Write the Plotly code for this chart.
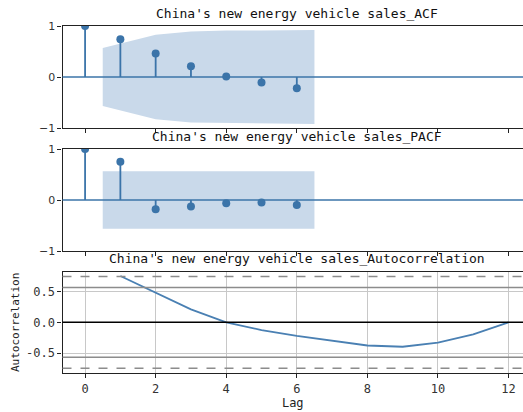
import plotly.graph_objects as go

# ---- data ----
lags = [0, 1, 2, 3, 4, 5, 6]
acf_vals = [1.0, 0.74, 0.46, 0.21, 0.01, -0.11, -0.22]
acf_conf = [0.57, 0.83, 0.89, 0.91, 0.91, 0.92]  # half-width of band for lags 1..6
pacf_vals = [1.0, 0.75, -0.18, -0.125, -0.065, -0.05, -0.10]
pacf_conf = [0.566, 0.566, 0.566, 0.566, 0.566, 0.566]
ac_lags = [1, 2, 3, 4, 5, 6, 7, 8, 9, 10, 11, 12]
ac_vals = [0.75, 0.48, 0.21, 0.0, -0.125, -0.22, -0.30, -0.375, -0.395, -0.33, -0.195, 0.0]
z95 = 0.566
z99 = 0.744
titles = ["China's new energy vehicle sales_ACF",
          "China's new energy vehicle sales_PACF",
          "China's new energy vehicle sales_Autocorrelation"]
xticks = [0, 2, 4, 6, 8, 10, 12]

W, H = 523, 412
C0 = "#3b74a9"
FILL = "#c9d9ea"
MONO = "DejaVu Sans Mono"

def ydom(top, bot):
    return [1 - bot / H, 1 - top / H]

XR = [-0.64, 12.41]
XD = [62.5 / W, 1.0]

fig = go.Figure()

def stem_panel(vals, conf, xa, ya):
    # confidence band
    bx = [l for l in lags[1:]]
    bx[0] -= 0.5
    bx[-1] += 0.5
    fig.add_trace(go.Scatter(x=bx + bx[::-1], y=conf + [-c for c in conf[::-1]],
                             fill="toself", fillcolor=FILL, line=dict(width=0),
                             mode="lines", hoverinfo="skip", xaxis=xa, yaxis=ya,
                             showlegend=False))
    sx, sy = [], []
    for l, v in zip(lags, vals):
        sx += [l, l, None]
        sy += [0, v, None]
    fig.add_trace(go.Scatter(x=sx, y=sy, mode="lines", line=dict(color=C0, width=1.8),
                             xaxis=xa, yaxis=ya, showlegend=False))
    fig.add_trace(go.Scatter(x=lags, y=vals, mode="markers",
                             marker=dict(color=C0, size=8), xaxis=xa, yaxis=ya,
                             showlegend=False))

stem_panel(acf_vals, acf_conf, "x", "y")
stem_panel(pacf_vals, pacf_conf, "x2", "y2")

fig.add_trace(go.Scatter(x=ac_lags, y=ac_vals, mode="lines",
                         line=dict(color="#4a80b3", width=1.8),
                         xaxis="x3", yaxis="y3", showlegend=False))

shapes = []
for yr in ["y", "y2"]:
    shapes.append(dict(type="line", xref="x domain" if yr == "y" else "x2 domain",
                       x0=0, x1=1, yref=yr, y0=0, y1=0,
                       line=dict(color=C0, width=1.6), layer="above"))
for v, dash, col in [(z99, "dash", "#8c8c8c"), (z95, "solid", "#8c8c8c"),
                     (-z95, "solid", "#8c8c8c"), (-z99, "dash", "#8c8c8c")]:
    shapes.append(dict(type="line", xref="x3 domain", x0=0, x1=1, yref="y3",
                       y0=v, y1=v, line=dict(color=col, width=1.5, dash=dash)))
shapes.append(dict(type="line", xref="x3 domain", x0=0, x1=1, yref="y3", y0=0, y1=0,
                   line=dict(color="black", width=1.5)))

tick_font = dict(family="DejaVu Sans", size=11, color="#333")
mono_font = dict(family=MONO, size=12, color="#333")

common_x = dict(range=XR, domain=XD, tickvals=xticks, ticks="outside", ticklen=4,
                tickcolor="#222", showline=True, linecolor="#222", linewidth=1.2,
                mirror=True, zeroline=False, showgrid=False, automargin=False)

annotations = []
for t, yc in zip(titles, [14, 137, 258]):
    annotations.append(dict(text=t, xref="x", x=6, yref="paper", y=1 - yc / H,
                            showarrow=False, xanchor="center", yanchor="middle",
                            font=dict(family=MONO, size=13, color="#111")))

fig.update_layout(
    width=W, height=H, margin=dict(l=0, r=0, t=0, b=0),
    paper_bgcolor="white", plot_bgcolor="white",
    xaxis=dict(common_x, anchor="y", showticklabels=False),
    yaxis=dict(domain=ydom(26, 128), range=[-1, 1], tickvals=[-1, 0, 1],
               ticktext=["\u22121", "0", "1"], ticks="outside", ticklen=4,
               tickcolor="#222", showline=True, linecolor="#222", linewidth=1.2,
               zeroline=False, showgrid=False, tickfont=tick_font, anchor="x",
               automargin=False),
    xaxis2=dict(common_x, anchor="y2", showticklabels=False),
    yaxis2=dict(domain=ydom(149, 251), range=[-1, 1], tickvals=[-1, 0, 1],
                ticktext=["\u22121", "0", "1"], ticks="outside", ticklen=4,
                tickcolor="#222", showline=True, linecolor="#222", linewidth=1.2,
                zeroline=False, showgrid=False, tickfont=tick_font, anchor="x2",
                automargin=False),
    xaxis3=dict(common_x, anchor="y3", showticklabels=True, tickfont=mono_font,
                showgrid=True, gridcolor="#c8c8c8", gridwidth=1,
                title=dict(text="Lag", font=dict(family=MONO, size=12, color="#222"),
                           standoff=4)),
    yaxis3=dict(domain=ydom(271.7, 373), range=[-0.82, 0.82],
                tickvals=[-0.5, 0.0, 0.5], ticktext=["-0.5", "0.0", "0.5"],
                ticks="outside", ticklen=4, tickcolor="#222", showline=True,
                linecolor="#222", linewidth=1.2, zeroline=False, showgrid=True,
                gridcolor="#c8c8c8", gridwidth=1, tickfont=mono_font, anchor="x3",
                automargin=False,
                title=dict(text="Autocorrelation",
                           font=dict(family=MONO, size=11, color="#222"), standoff=4)),
    shapes=shapes,
    annotations=annotations,
)

fig.write_html("out.html", config={"displayModeBar": False},
               post_script="document.body.style.margin='0';document.body.style.overflow='hidden';")
